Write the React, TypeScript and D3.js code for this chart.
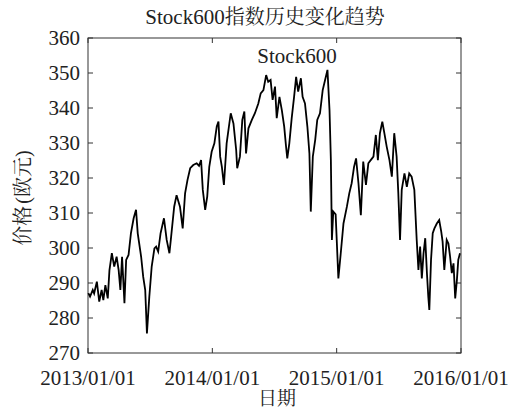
import React from "react";
import * as d3 from "d3";

const dates: string[] = [
  "2013-01-02","2013-01-07","2013-01-15","2013-01-19","2013-01-27","2013-02-03","2013-02-10","2013-02-15","2013-02-21","2013-02-28",
  "2013-03-05","2013-03-12","2013-03-19","2013-03-26","2013-04-01","2013-04-06","2013-04-11","2013-04-18","2013-04-23","2013-04-30",
  "2013-05-07","2013-05-15","2013-05-22","2013-05-27","2013-06-06","2013-06-12","2013-06-18","2013-06-23","2013-06-30","2013-07-07",
  "2013-07-15","2013-07-20","2013-07-26","2013-08-02","2013-08-12","2013-08-20","2013-08-28","2013-09-02","2013-09-11","2013-09-18",
  "2013-09-28","2013-10-06","2013-10-13","2013-10-20","2013-10-28","2013-11-06","2013-11-16","2013-11-23","2013-11-29","2013-12-04",
  "2013-12-11","2013-12-17","2013-12-23","2013-12-30","2014-01-07","2014-01-14","2014-01-19","2014-01-24","2014-01-29","2014-02-04",
  "2014-02-12","2014-02-24","2014-03-04","2014-03-12","2014-03-15","2014-03-23","2014-03-30","2014-04-05","2014-04-10","2014-04-17",
  "2014-04-27","2014-05-06","2014-05-16","2014-05-23","2014-05-31","2014-06-08","2014-06-14","2014-06-21","2014-06-27","2014-07-04",
  "2014-07-09","2014-07-17","2014-07-24","2014-07-31","2014-08-05","2014-08-09","2014-08-15","2014-08-22","2014-08-29","2014-09-04",
  "2014-09-10","2014-09-18","2014-09-23","2014-09-30","2014-10-07","2014-10-13","2014-10-17","2014-10-23","2014-10-30","2014-11-05",
  "2014-11-13","2014-11-21","2014-11-28","2014-12-05","2014-12-11","2014-12-15","2014-12-18","2014-12-22","2014-12-29","2015-01-06",
  "2015-01-13","2015-01-21","2015-01-31","2015-02-07","2015-02-14","2015-02-21","2015-02-27","2015-03-06","2015-03-13","2015-03-20",
  "2015-03-28","2015-04-04","2015-04-11","2015-04-19","2015-04-26","2015-05-02","2015-05-08","2015-05-15","2015-05-21","2015-05-28",
  "2015-06-05","2015-06-12","2015-06-19","2015-06-26","2015-07-01","2015-07-06","2015-07-11","2015-07-19","2015-07-26","2015-08-02",
  "2015-08-09","2015-08-17","2015-08-24","2015-08-29","2015-09-03","2015-09-08","2015-09-13","2015-09-18","2015-09-23","2015-09-27",
  "2015-09-30","2015-10-05","2015-10-10","2015-10-15","2015-10-22","2015-10-29","2015-11-04","2015-11-08","2015-11-13","2015-11-20",
  "2015-11-25","2015-11-30","2015-12-05","2015-12-10","2015-12-15","2015-12-20","2015-12-24","2015-12-29"
];

const prices: number[] = [
  287.1,286.1,288.0,287.0,290.4,284.7,288.0,285.1,289.4,285.6,
  293.7,298.5,294.7,297.5,293.7,288.0,297.5,284.2,296.6,298.0,
  304.2,308.5,310.9,304.2,297.5,291.8,288.0,275.6,286.1,294.7,
  299.9,300.4,299.0,304.2,308.5,302.3,298.5,303.2,311.8,315.1,
  311.8,305.6,315.6,319.4,322.8,323.7,324.2,323.5,325.1,316.6,
  310.9,314.7,323.2,327.5,329.9,334.7,336.1,326.1,323.2,318.0,
  329.9,338.5,335.6,328.0,322.8,326.1,336.6,339.0,327.0,334.2,
  336.6,338.5,341.3,344.2,345.1,349.4,347.5,348.0,342.3,346.1,
  337.1,343.2,339.4,334.7,329.4,325.6,329.9,337.1,343.2,348.9,
  344.7,348.5,343.2,341.3,334.7,327.0,310.4,326.1,330.9,336.6,
  338.5,345.1,348.0,350.9,339.4,325.1,302.3,310.4,309.6,291.3,
  298.5,307.0,311.8,315.6,318.5,323.2,325.6,318.5,309.4,324.7,
  318.0,324.2,325.1,326.1,332.3,325.1,332.8,336.1,332.8,328.9,
  325.1,320.4,332.8,326.1,315.6,302.3,316.6,321.3,317.5,321.3,
  320.4,316.6,302.3,293.7,300.4,291.3,298.5,302.8,292.8,286.1,
  282.3,296.6,304.2,305.6,307.0,308.0,304.7,301.8,293.7,302.3,
  301.3,297.5,292.8,295.6,285.6,290.9,296.6,298.5
];

const yTicks: number[] = [270, 280, 290, 300, 310, 320, 330, 340, 350, 360];
const xTicks: string[] = ["2013-01-01", "2014-01-01", "2015-01-01", "2016-01-01"];
const xTickLabels: string[] = ["2013/01/01", "2014/01/01", "2015/01/01", "2016/01/01"];

const titleLatin = "Stock600";
const titleCJK = "指数历史变化趋势";
const seriesName = "Stock600";
const xLabel = "日期";
const yLabelA = "价格";
const yLabelB = "(";
const yLabelC = "欧元";
const yLabelD = ")";

const W = 515, H = 418;
const L = 88, R = 461, T = 38, B = 353;
const LATIN = "Liberation Serif";
const CJK = "Noto Serif CJK SC";

export default function App() {
  const parse = d3.timeParse("%Y-%m-%d");
  const x = d3.scaleTime()
    .domain([parse(xTicks[0])!, parse(xTicks[xTicks.length - 1])!])
    .range([L, R]);
  const y = d3.scaleLinear().domain([270, 360]).range([B, T]);
  const data = dates.map((d, i) => ({ d: parse(d)!, v: prices[i] }));
  const line = d3.line<{ d: Date; v: number }>().x(p => x(p.d)).y(p => y(p.v));
  const tk = 5;
  const txt = "#222";

  return (
    <svg width={W} height={H} style={{ position: "absolute", left: 0, top: 0, background: "#fff" }}>
      <rect x={0} y={0} width={W} height={H} fill="#fff" />
      <text x={265} y={24} textAnchor="middle" fontSize={20} fill={txt}>
        <tspan style={{ fontFamily: LATIN }} fontSize={21}>{titleLatin}</tspan>
        <tspan style={{ fontFamily: CJK }}>{titleCJK}</tspan>
      </text>
      <rect x={L} y={T} width={R - L} height={B - T} fill="none" stroke="#333" strokeWidth={1} />
      {yTicks.map(t => (
        <g key={"y" + t}>
          <line x1={L} x2={L + tk} y1={y(t)} y2={y(t)} stroke="#333" />
          <line x1={R} x2={R - tk} y1={y(t)} y2={y(t)} stroke="#333" />
          <text x={80} y={y(t)} dy="0.35em" textAnchor="end" style={{ fontFamily: LATIN }} fontSize={21} fill={txt}>{t}</text>
        </g>
      ))}
      {xTicks.map((t, i) => {
        const px = x(parse(t)!);
        return (
          <g key={"x" + t}>
            <line x1={px} x2={px} y1={B} y2={B - tk} stroke="#333" />
            <line x1={px} x2={px} y1={T} y2={T + tk} stroke="#333" />
            <text x={px} y={385} textAnchor="middle" style={{ fontFamily: LATIN }} fontSize={21} fill={txt}>{xTickLabels[i]}</text>
          </g>
        );
      })}
      <path d={line(data) || ""} fill="none" stroke="#000" strokeWidth={1.8} strokeLinejoin="miter" />
      <text x={297} y={63} textAnchor="middle" style={{ fontFamily: LATIN }} fontSize={21} fill={txt}>{seriesName}</text>
      <text x={277} y={405} textAnchor="middle" style={{ fontFamily: CJK }} fontSize={19} fill={txt}>{xLabel}</text>
      <text transform={`translate(30,198) rotate(-90)`} textAnchor="middle" fontSize={20} fill={txt}>
        <tspan style={{ fontFamily: CJK }}>{yLabelA}</tspan>
        <tspan style={{ fontFamily: LATIN }} dx={2}>{yLabelB}</tspan>
        <tspan style={{ fontFamily: CJK }}>{yLabelC}</tspan>
        <tspan style={{ fontFamily: LATIN }}>{yLabelD}</tspan>
      </text>
    </svg>
  );
}
